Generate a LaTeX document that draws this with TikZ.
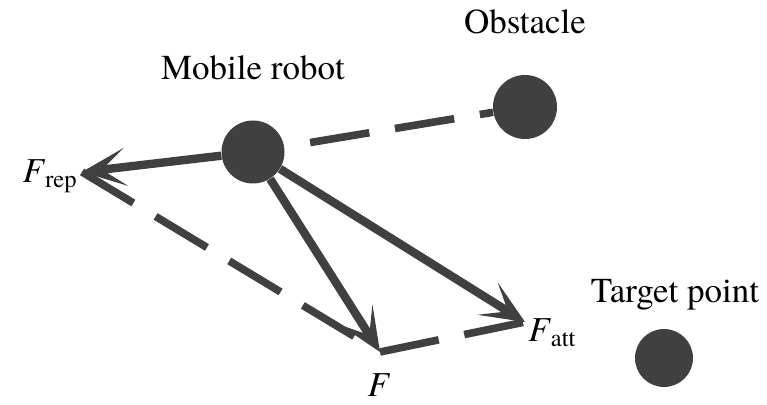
\documentclass[tikz,border=0pt]{standalone}
\usepackage{fontspec}
\setmainfont{TeX Gyre Termes}
\usetikzlibrary{arrows.meta}
\definecolor{ink}{HTML}{404040}
\begin{document}
\begin{tikzpicture}[x=0.5pt,y=-0.5pt,font=\fontsize{17.5}{21}\selectfont,
  body/.style={circle,fill=ink,inner sep=0pt,minimum size=#1},
  force/.style={draw=ink,line width=4.2pt,-{Stealth[length=22pt,width=19pt,inset=12pt]}},
  guide/.style={draw=ink,line width=3.8pt,dash pattern=on 30pt off 13pt}]
\useasboundingbox (0,0) rectangle (767,405);
% bodies
\node[body=31.5pt] (robot) at (253,152) {};\node[body=32pt] (obst) at (525,107) {};\node[body=29pt] (target) at (664,358) {};
\node (lrobot) at (253,68) {Mobile robot};\node (lobst) at (525,22) {Obstacle};\node (ltarget) at (675,295) {Target point};
% force tips
\coordinate (frep) at (82,172);\coordinate (f) at (380,352);\coordinate (fatt) at (525,322);
\draw[guide,dash phase=30pt] (robot)--(obst);
\draw[guide,shorten >=5pt] (frep)--(f);\draw[guide] (f)--(fatt);
\foreach \tip in {frep,f,fatt} {\draw[force] (robot)--(\tip);}
\node[anchor=east,inner sep=1pt] (lrep) at (80,176) {\textit{F}\textsubscript{rep}};
\node[inner sep=1pt] (lf) at (379,385) {\textit{F}};
\node[anchor=west,inner sep=1pt] (latt) at (526,333) {\textit{F}\textsubscript{att}};
\end{tikzpicture}
\end{document}
